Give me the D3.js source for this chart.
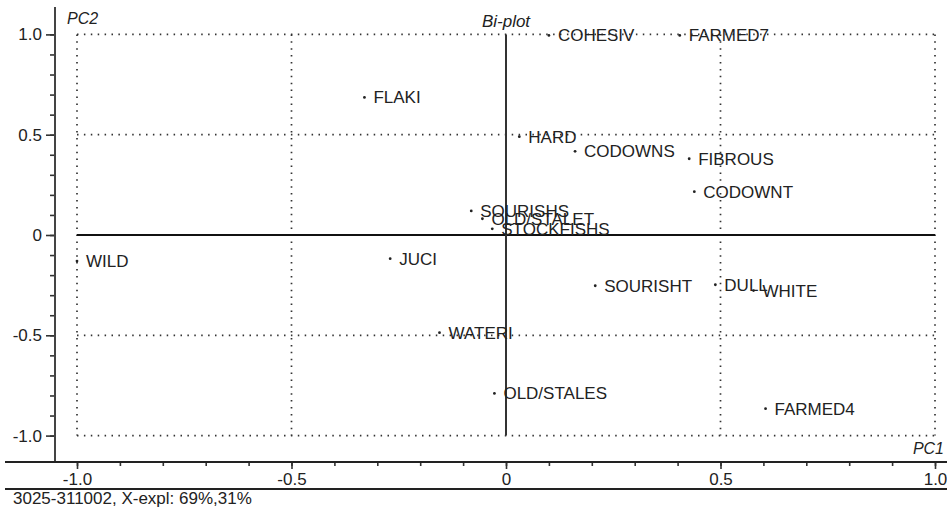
<!DOCTYPE html>
<html>
<head>
<meta charset="utf-8">
<script src="https://cdn.jsdelivr.net/npm/d3@7"></script>
<style>
  html, body { margin: 0; padding: 0; background: #fff; }
  svg { display: block; font-family: Arial, "Liberation Sans", sans-serif; }
</style>
</head>
<body>
<svg id="chart" width="947" height="510"></svg>
<script>
// Variable names for each point of the bi-plot
const names = ["WILD", "FLAKI", "COHESIV", "FARMED7", "HARD", "CODOWNS", "FIBROUS", "CODOWNT",
  "SOURISHS", "OLD/STALET", "STOCKFISHS", "JUCI", "SOURISHT", "DULL", "WHITE",
  "WATERI", "OLD/STALES", "FARMED4"];
// PC1 scores
const pc1 = [-1.0, -0.33, 0.10, 0.405, 0.031, 0.161, 0.427, 0.439,
  -0.081, -0.055, -0.032, -0.27, 0.208, 0.488, 0.577,
  -0.155, -0.027, 0.605];
// PC2 scores
const pc2 = [-0.13, 0.686, 0.995, 0.995, 0.49, 0.417, 0.38, 0.216,
  0.12, 0.081, 0.031, -0.118, -0.253, -0.248, -0.277,
  -0.487, -0.79, -0.866];

const majorTicks = [-1.0, -0.5, 0, 0.5, 1.0];
const minorTicks = [-1.0, -0.9, -0.8, -0.7, -0.6, -0.5, -0.4, -0.3, -0.2, -0.1, 0,
  0.1, 0.2, 0.3, 0.4, 0.5, 0.6, 0.7, 0.8, 0.9, 1.0];
const tickLabels = ["-1.0", "-0.5", "0", "0.5", "1.0"];
const gridValues = [-1.0, -0.5, 0.5, 1.0];

const title = "Bi-plot";
const xTitle = "PC1";
const yTitle = "PC2";
const caption = "3025-311002, X-expl: 69%,31%";

const svg = d3.select("#chart");
const ink = "#222";
const fontSize = 17;

const x = d3.scaleLinear().domain([-1, 1]).range([77, 935]);
const y = d3.scaleLinear().domain([-1, 1]).range([435.6, 34.4]);

const fmt = v => tickLabels[majorTicks.indexOf(v)];

// dotted grid
const grid = svg.append("g")
  .attr("stroke", "#333").attr("stroke-width", 1.7)
  .attr("stroke-dasharray", "1.5,5.4").attr("fill", "none");
grid.selectAll("line.h").data(gridValues).join("line")
  .attr("x1", x(-1)).attr("x2", x(1))
  .attr("y1", d => y(d)).attr("y2", d => y(d));
grid.selectAll("line.v").data(gridValues).join("line")
  .attr("x1", d => x(d)).attr("x2", d => x(d))
  .attr("y1", y(1)).attr("y2", y(-1));

// solid zero lines
svg.append("line")
  .attr("x1", x(-1)).attr("x2", x(1)).attr("y1", y(0)).attr("y2", y(0))
  .attr("stroke", "#111").attr("stroke-width", 2);
svg.append("line")
  .attr("x1", x(0)).attr("x2", x(0)).attr("y1", y(1)).attr("y2", y(-1))
  .attr("stroke", "#333").attr("stroke-width", 2);

// left axis
const axisX = 55;
const yAxisG = svg.append("g").attr("transform", `translate(${axisX},0)`);
yAxisG.call(d3.axisLeft(y).tickValues(minorTicks).tickSize(5).tickFormat(""));
yAxisG.call(g => g.selectAll(".domain").remove());
const yMajor = svg.append("g").attr("transform", `translate(${axisX},0)`)
  .call(d3.axisLeft(y).tickValues(majorTicks).tickSize(9).tickPadding(4).tickFormat(fmt));
yMajor.select(".domain").remove();
svg.append("line").attr("x1", axisX).attr("x2", axisX).attr("y1", 7).attr("y2", 462)
  .attr("stroke", "#444").attr("stroke-width", 2);

// bottom axis
const axisY = 462;
const xMinor = svg.append("g").attr("transform", `translate(0,${axisY})`)
  .call(d3.axisBottom(x).tickValues(minorTicks).tickSize(4).tickFormat(""));
xMinor.select(".domain").remove();
const xMajor = svg.append("g").attr("transform", `translate(0,${axisY})`)
  .call(d3.axisBottom(x).tickValues(majorTicks).tickSize(7).tickPadding(4).tickFormat(fmt));
xMajor.select(".domain").remove();
svg.append("line").attr("x1", 5).attr("x2", 947).attr("y1", axisY).attr("y2", axisY)
  .attr("stroke", "#222").attr("stroke-width", 2);
svg.append("line").attr("x1", 5).attr("x2", 947).attr("y1", 489).attr("y2", 489)
  .attr("stroke", "#222").attr("stroke-width", 2);

svg.selectAll(".tick line").attr("stroke", "#333").attr("stroke-width", 1.6);
svg.selectAll(".tick text").attr("fill", ink).attr("font-size", fontSize)
  .attr("font-family", "Arial, 'Liberation Sans', sans-serif");

// titles
svg.append("text").attr("x", x(0)).attr("y", 27).attr("text-anchor", "middle")
  .attr("font-style", "italic").attr("font-size", 17).attr("fill", ink).text(title);
svg.append("text").attr("x", 67).attr("y", 24)
  .attr("font-style", "italic").attr("font-size", 16).attr("fill", ink).text(yTitle);
svg.append("text").attr("x", 944).attr("y", 454).attr("text-anchor", "end")
  .attr("font-style", "italic").attr("font-size", 16).attr("fill", ink).text(xTitle);
svg.append("text").attr("x", 13).attr("y", 504)
  .attr("font-size", fontSize).attr("fill", ink).text(caption);

// points and labels
const pts = names.map((n, i) => ({ name: n, px: pc1[i], py: pc2[i] }));
const pg = svg.append("g");
pg.selectAll("circle").data(pts).join("circle")
  .attr("cx", d => x(d.px)).attr("cy", d => y(d.py)).attr("r", 1.4).attr("fill", ink);
pg.selectAll("text").data(pts).join("text")
  .attr("x", d => x(d.px) + 9).attr("y", d => y(d.py) + 6)
  .attr("font-size", fontSize).attr("fill", ink).text(d => d.name);
</script>
</body>
</html>
